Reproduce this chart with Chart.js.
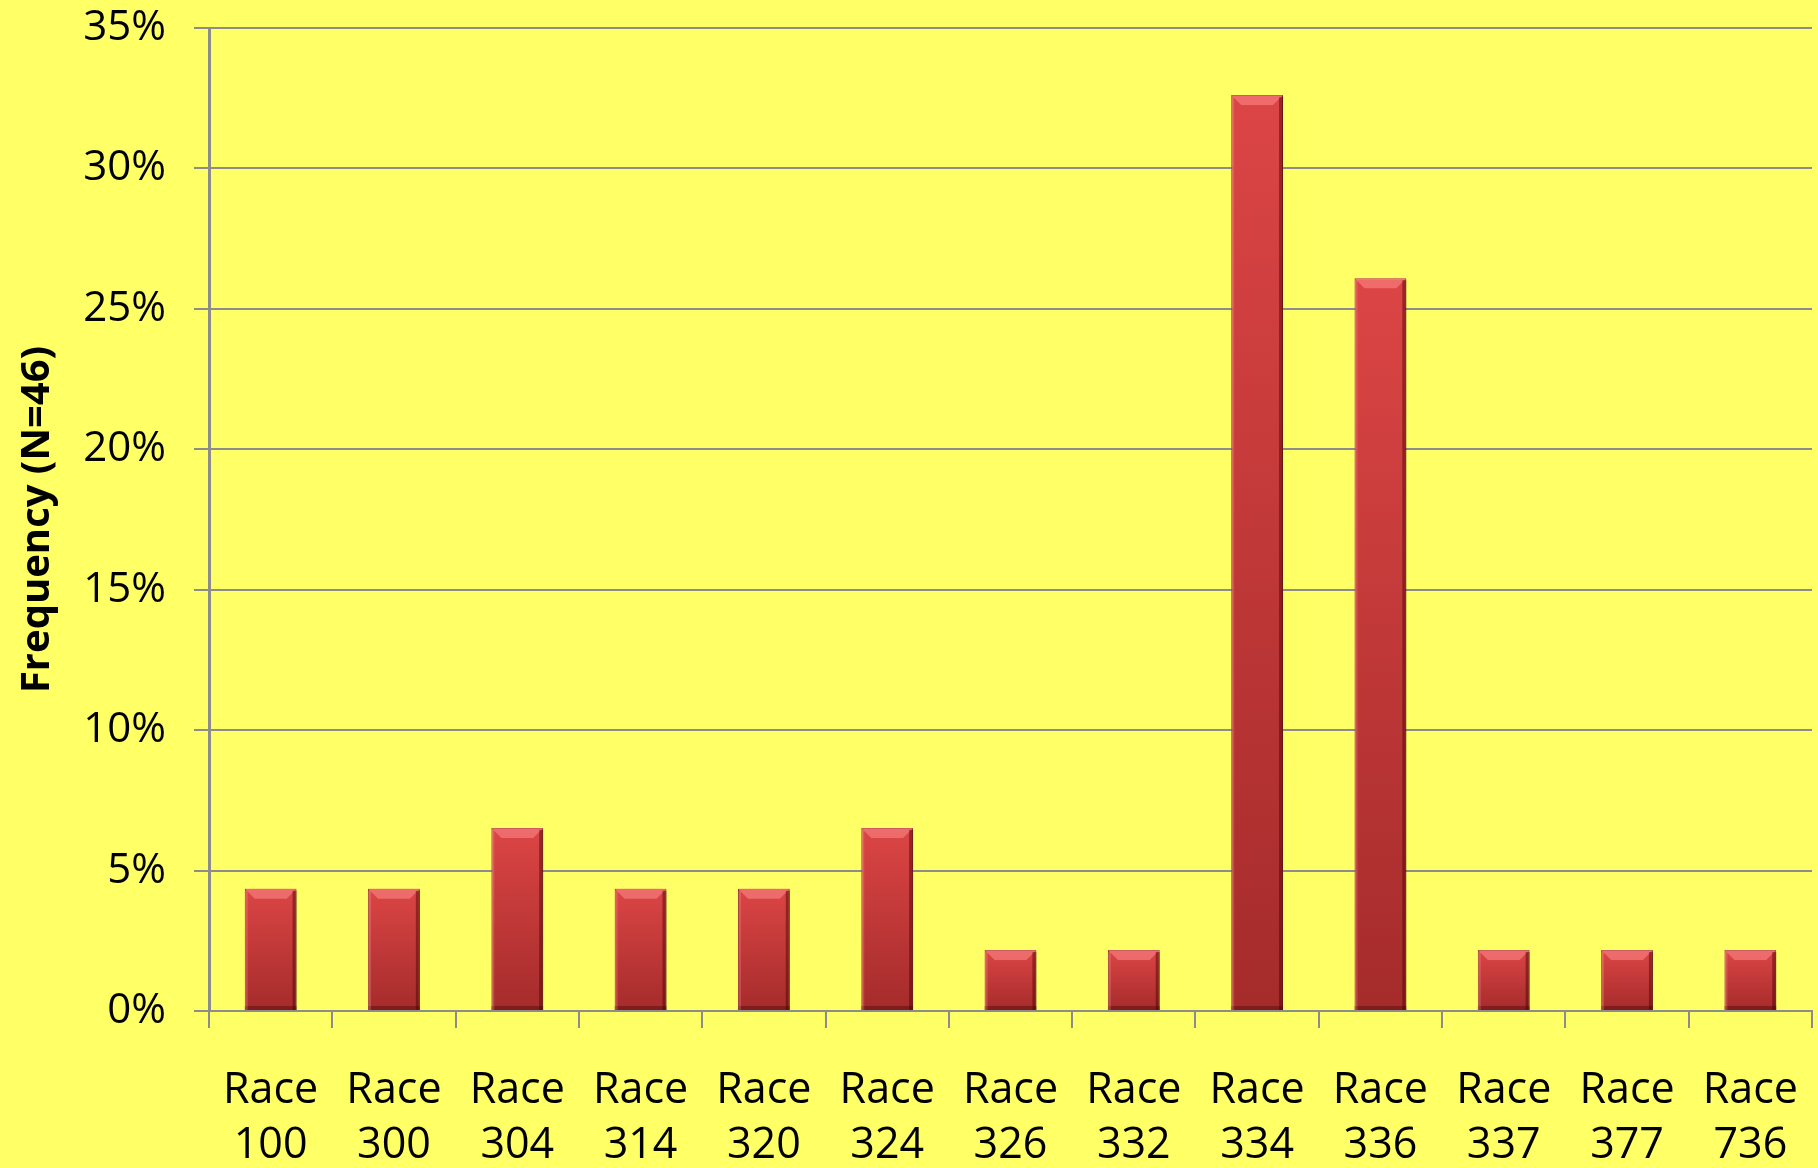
<!DOCTYPE html>
<html>
<head>
<meta charset="utf-8">
<script src="https://cdn.jsdelivr.net/npm/chart.js@4.4.1/dist/chart.umd.min.js"></script>
<style>
  html, body { margin: 0; padding: 0; background: #ffff66; }
  #wrap { width: 1818px; height: 1168px; }
</style>
</head>
<body>
<div id="wrap"><canvas id="raceChart" width="1818" height="1168"></canvas></div>
<script>
var races = ['100', '300', '304', '314', '320', '324', '326', '332', '334', '336', '337', '377', '736'];
var frequency = [4.35, 4.35, 6.52, 4.35, 4.35, 6.52, 2.17, 2.17, 32.61, 26.09, 2.17, 2.17, 2.17];
var yTicks = [0, 5, 10, 15, 20, 25, 30, 35];

var labels = races.map(function (r) { return ['Race', r]; });
var gridColor = '#8c8c8c';
var fontFamily = "'Open Sans', 'Liberation Sans', sans-serif";

// vertical shading for each bar, from its own top down to the baseline
function barFill(c) {
  var chart = c.chart;
  var y = chart.scales.y;
  if (!y || c.raw === undefined) return '#c83c3c';
  var top = y.getPixelForValue(c.raw);
  var bottom = y.getPixelForValue(0);
  if (!isFinite(top) || !isFinite(bottom)) return '#c83c3c';
  var g = chart.ctx.createLinearGradient(0, top, 0, bottom);
  g.addColorStop(0, '#dc4545');
  g.addColorStop(1, '#a52b2b');
  return g;
}

// bevel highlights on the bars
var bevel = {
  id: 'bevel',
  afterDatasetsDraw: function (chart) {
    var ctx = chart.ctx;
    chart.getDatasetMeta(0).data.forEach(function (bar) {
      var left = bar.x - bar.width / 2, right = bar.x + bar.width / 2;
      var top = bar.y, base = bar.base;
      var b = Math.min(10, (base - top) / 3);
      ctx.save();
      ctx.fillStyle = 'rgba(255,140,140,0.55)';
      ctx.beginPath();
      ctx.moveTo(left, top);
      ctx.lineTo(right, top);
      ctx.lineTo(right - b, top + b);
      ctx.lineTo(left + b, top + b);
      ctx.closePath();
      ctx.fill();
      ctx.fillStyle = 'rgba(70,0,0,0.45)';
      ctx.fillRect(right - 4, top + 2, 4, base - top - 2);
      ctx.fillStyle = 'rgba(60,0,0,0.35)';
      ctx.fillRect(left, base - 4, bar.width, 4);
      ctx.fillStyle = 'rgba(255,160,160,0.25)';
      ctx.fillRect(left, top + 2, 3, base - top - 2);
      ctx.restore();
    });
  }
};

new Chart(document.getElementById('raceChart').getContext('2d'), {
  type: 'bar',
  data: {
    labels: labels,
    datasets: [{
      data: frequency,
      backgroundColor: barFill,
      borderColor: '#8a2424',
      borderWidth: 1,
      categoryPercentage: 1,
      barPercentage: 0.42
    }]
  },
  options: {
    responsive: false,
    animation: false,
    devicePixelRatio: 1,
    layout: { padding: { top: 28, right: 6, left: 14, bottom: 0 } },
    plugins: { legend: { display: false }, tooltip: { enabled: false } },
    scales: {
      x: {
        grid: { display: true, drawOnChartArea: false, color: gridColor, lineWidth: 2, tickLength: 17, offset: true },
        border: { color: gridColor, width: 2 },
        ticks: { color: '#000', padding: 35, maxRotation: 0, autoSkip: false, font: { family: fontFamily, size: 43, lineHeight: 1.28 } },
        afterFit: function (s) { s.height = 157; s.paddingLeft = 0; s.paddingRight = 0; }
      },
      y: {
        min: 0,
        max: 35,
        afterBuildTicks: function (s) { s.ticks = yTicks.map(function (v) { return { value: v }; }); },
        grid: { color: gridColor, lineWidth: 2, tickLength: 15 },
        border: { color: gridColor, width: 3 },
        ticks: { color: '#000', padding: 28, font: { family: fontFamily, size: 42 }, callback: function (v) { return v + '%'; } },
        title: { display: true, text: 'Frequency (N=46)', color: '#000', padding: { top: 0, bottom: 8 }, font: { family: fontFamily, size: 40, weight: 'bold' } },
        afterFit: function (s) { s.width = 195; s.paddingTop = 0; s.paddingBottom = 0; }
      }
    }
  },
  plugins: [bevel, {
    id: 'bg',
    beforeDraw: function (chart) {
      var ctx = chart.ctx;
      ctx.save();
      ctx.fillStyle = '#ffff66';
      ctx.fillRect(0, 0, chart.width, chart.height);
      ctx.restore();
    }
  }]
});
</script>
</body>
</html>
